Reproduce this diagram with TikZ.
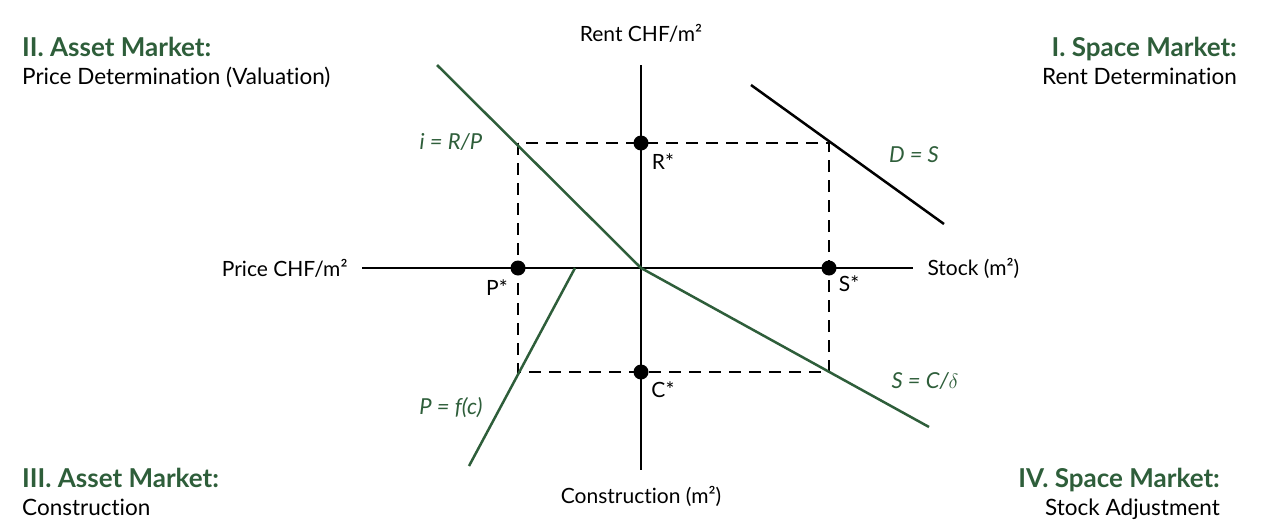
\documentclass[tikz,border=0pt]{standalone}
\usepackage{fontspec}
\setmainfont{Lato}[Ligatures=NoCommon]
\usepackage{xcolor}
\usetikzlibrary{arrows}
\usetikzlibrary{positioning}
\definecolor{quadgreen}{RGB}{46,94,58}

\begin{document}
\begin{tikzpicture}[x=1pt, y=-1pt,
		axis/.style={draw, line width=2.5pt},
		greenline/.style={draw=quadgreen, line width=2.5pt},
		guide/.style={draw, line width=2.2pt, dash pattern=on 12pt off 8pt},
		eqpoint/.style={circle, fill=black, inner sep=0pt, minimum size=15pt},
		axislabel/.style={font=\fontsize{21}{25}\selectfont},
		starlabel/.style={font=\fontsize{21}{25}\selectfont, inner sep=0pt},
		curvelabel/.style={text=quadgreen, font=\fontsize{22}{26}\selectfont\itshape, inner sep=0pt},
		heading/.style={text=quadgreen, font=\fontsize{26}{30}\selectfont\bfseries, inner sep=0pt},
		subheading/.style={font=\fontsize{22.5}{27}\selectfont, inner sep=0pt}]
	\useasboundingbox (0,0) rectangle (1280,525);
	
	% axes
	\coordinate (O) at (641,268);
	\coordinate (ytop) at (641,65);
	\coordinate (ybot) at (641,470);
	\coordinate (xleft) at (362,268);
	\coordinate (xright) at (913,268);
	\draw[axis] (ytop) -- (ybot);
	\draw[axis] (xleft) -- (xright);
	
	% dashed equilibrium rectangle
	\coordinate (tl) at (518,143);
	\coordinate (br) at (829,372);
	\draw[guide] (tl) rectangle (br);
	
	% curves
	\coordinate (rpstart) at (437,65);
	\coordinate (dsstart) at (751,85);
	\coordinate (dsend) at (944,224);
	\coordinate (scend) at (929,427);
	\coordinate (pfstart) at (575,268);
	\coordinate (pfend) at (469,466);
	\draw[greenline] (rpstart) -- (O);
	\draw[axis] (dsstart) -- (dsend);
	\draw[greenline] (O) -- (scend);
	\draw[greenline] (pfstart) -- (pfend);
	
	% equilibrium points
	\node[eqpoint] (rstar) at (ytop |- tl) {};
	\node[eqpoint] (pstar) at (tl |- O) {};
	\node[eqpoint] (sstar) at (br |- O) {};
	\node[eqpoint] (cstar) at (ytop |- br) {};
	\node[starlabel] (rstarlbl) at (663,162) {R*};
	\node[starlabel] (pstarlbl) at (497,288) {P*};
	\node[starlabel] (sstarlbl) at (849,284) {S*};
	\node[starlabel] (cstarlbl) at (663,390) {C*};
	
	% axis labels
	\node[axislabel] (rentlbl) at (641,33) {Rent CHF/m²};
	\node[axislabel, anchor=east] (pricelbl) at (351,268) {Price CHF/m²};
	\node[axislabel, anchor=west] (stocklbl) at (924,268) {Stock (m²)};
	\node[axislabel] (constrlbl) at (641,496) {Construction (m²)};
	
	% curve labels
	\node[curvelabel] (rplbl) at (451,142) {i = R/P};
	\node[curvelabel] (dslbl) at (914,155) {D = S};
	\node[curvelabel] (sclbl) at (925,381) {S = C/$\delta$};
	\node[curvelabel] (pflbl) at (451,408) {P = f(c)};
	
	% quadrant titles
	\node[heading, anchor=base west] (q2title) at (22,56) {II. Asset Market:};
	\node[subheading, anchor=base west] (q2sub) at (22,84) {Price Determination (Valuation)};
	\node[heading, anchor=base east] (q1title) at (1237,56) {I. Space Market:};
	\node[subheading, anchor=base east] (q1sub) at (1237,84) {Rent Determination};
	\node[heading, anchor=base west] (q3title) at (22,487) {III. Asset Market:};
	\node[subheading, anchor=base west] (q3sub) at (22,515) {Construction};
	\node[heading, anchor=base east] (q4title) at (1220,487) {IV. Space Market:};
	\node[subheading, anchor=base east] (q4sub) at (1220,515) {Stock Adjustment};
\end{tikzpicture}
\end{document}
